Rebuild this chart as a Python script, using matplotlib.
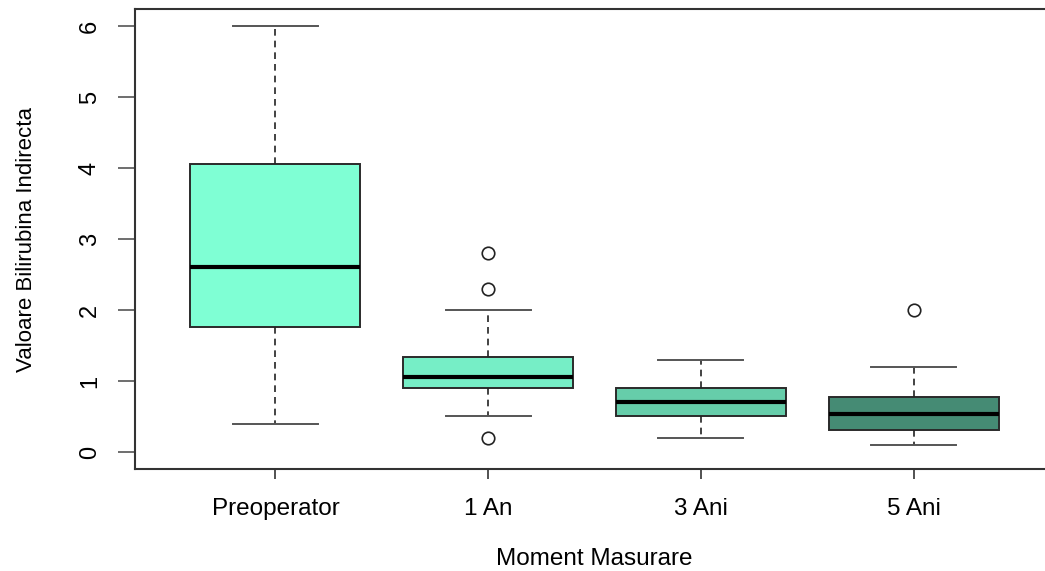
import matplotlib.pyplot as plt

# boxplot summary per moment: whisker low, q1, median, q3, whisker high
groups = ['Preoperator', '1 An', '3 Ani', '5 Ani']
whislo = [0.4, 0.5, 0.2, 0.1]
q1 = [1.76, 0.90, 0.50, 0.31]
med = [2.60, 1.05, 0.70, 0.53]
q3 = [4.05, 1.34, 0.90, 0.77]
whishi = [6.0, 2.0, 1.3, 1.2]
fliers = [[], [2.8, 2.3, 0.2], [], [2.0]]
box_colors = ['#7FFFD4', '#76EEC6', '#66CDAA', '#458B74']

plt.rcParams['font.family'] = ['Liberation Sans', 'DejaVu Sans']

fig = plt.figure(figsize=(10.45, 5.71), dpi=100)
# right frame edge falls just outside the canvas
ax = fig.add_axes([135 / 1045, 102 / 571, 919 / 1045, 460 / 571])

stats = []
for i in range(len(groups)):
    stats.append(dict(whislo=whislo[i], q1=q1[i], med=med[i], q3=q3[i],
                      whishi=whishi[i], fliers=fliers[i], label=groups[i]))

bp = ax.bxp(stats, positions=[1, 2, 3, 4], widths=0.8, patch_artist=True,
            boxprops=dict(edgecolor='#2a2a2a', linewidth=1.4),
            medianprops=dict(color='black', linewidth=3),
            whiskerprops=dict(color='#222222', linewidth=1.2, linestyle=(0, (4, 3))),
            capprops=dict(color='#555555', linewidth=1.4),
            flierprops=dict(marker='o', markerfacecolor='white', markeredgecolor='#222222',
                            markersize=9, markeredgewidth=1.2),
            capwidths=0.4)
for patch, c in zip(bp['boxes'], box_colors):
    patch.set_facecolor(c)

for s in ax.spines.values():
    s.set_linewidth(1.5)
    s.set_color('#333333')

ax.set_xlim(0.34, 4.66)
ax.set_ylim(-0.24, 6.24)
ax.set_yticks([0, 1, 2, 3, 4, 5, 6])
ax.set_xticks([1, 2, 3, 4])
ax.set_xticklabels(groups)
ax.tick_params(axis='x', length=7, width=1.2, color='#333333', pad=14, labelsize=17.5)
ax.tick_params(axis='y', length=12, width=1.2, color='#555555', pad=12.5, labelsize=17,
               labelrotation=90)
for lab in ax.get_yticklabels():
    lab.set_va('center')

ax.set_xlabel('Moment Masurare', fontsize=17.5, labelpad=20)
ax.set_ylabel('Valoare Bilirubina Indirecta', fontsize=16, labelpad=30)

fig.savefig('out.png', dpi=100)
